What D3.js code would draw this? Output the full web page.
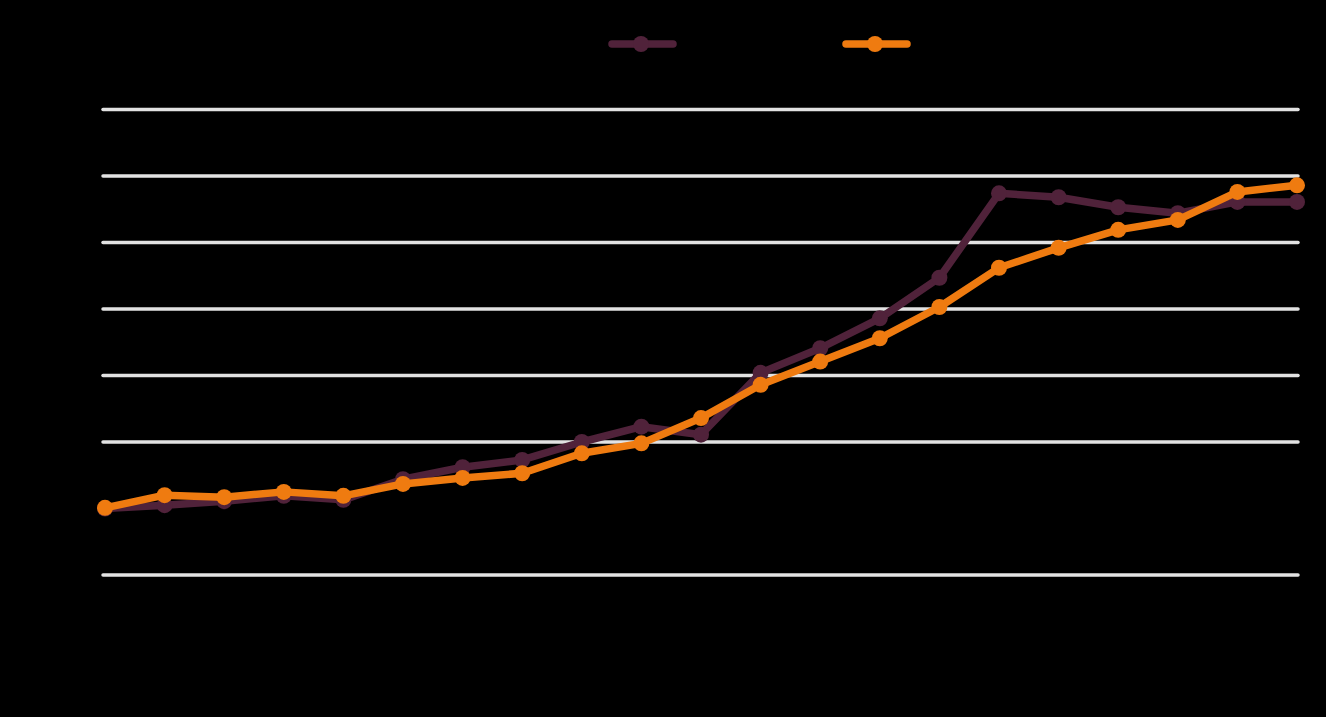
<!DOCTYPE html>
<html>
<head>
<meta charset="utf-8">
<script src="https://cdn.jsdelivr.net/npm/d3@7"></script>
<style>
  html, body { margin: 0; padding: 0; background: #000; }
  svg { display: block; }
</style>
</head>
<body>
<svg id="chart" width="1326" height="717"></svg>
<script>
const categories = ["1","2","3","4","5","6","7","8","9","10","11","12","13","14","15","16","17","18","19","20","21"];
const seriesNames = ["Series1", "Series2"];
const seriesA = [0, 0.5, 1.1, 1.9, 1.3, 4.4, 6.2, 7.3, 10.0, 12.3, 11.1, 20.4, 24.1, 28.6, 34.7, 47.4, 46.8, 45.3, 44.4, 46.1, 46.1];
const seriesB = [0.1, 2.0, 1.7, 2.5, 1.9, 3.7, 4.6, 5.3, 8.3, 9.8, 13.6, 18.6, 22.1, 25.6, 30.3, 36.2, 39.2, 41.9, 43.4, 47.6, 48.6];
const yTicks = [-10, 0, 10, 20, 30, 40, 50, 60];
const colors = ["#50223a", "#ef7b10"];

const svg = d3.select("#chart");
const mLeft = 105, mRight = 1297, mTop = 109.5, mBottom = 575;

const x = d3.scalePoint().domain(categories).range([mLeft, mRight]);
const y = d3.scaleLinear().domain([-10, 60]).range([mBottom, mTop]);

// gridlines
svg.append("g").selectAll("line")
  .data(yTicks.filter(d => d !== 0))
  .join("line")
  .attr("x1", mLeft - 2).attr("x2", mRight + 1)
  .attr("y1", d => y(d)).attr("y2", d => y(d))
  .attr("stroke", "#e2e2e2").attr("stroke-width", 3.5)
  .attr("stroke-linecap", "round");

// y axis labels (black)
const yAxis = d3.axisLeft(y).tickValues(yTicks).tickSize(0).tickPadding(10);
const gy = svg.append("g").attr("transform", `translate(${mLeft - 4},0)`).call(yAxis);
gy.select(".domain").remove();
gy.selectAll("text").attr("fill", "#000").attr("font-family", "Liberation Sans, Arial, sans-serif").attr("font-size", 16);

// x axis at zero (black)
const xAxis = d3.axisBottom(x).tickSize(0).tickPadding(80);
const gx = svg.append("g").attr("transform", `translate(0,${y(0)})`).call(xAxis);
gx.select(".domain").attr("stroke", "#000").attr("stroke-width", 2);
gx.selectAll("text").attr("fill", "#000").attr("font-family", "Liberation Sans, Arial, sans-serif").attr("font-size", 16);

const line = d3.line().x((d, i) => x(categories[i])).y(d => y(d));
const allSeries = [seriesA, seriesB];

allSeries.forEach((s, k) => {
  const g = svg.append("g");
  g.append("path").datum(s)
    .attr("d", line)
    .attr("fill", "none")
    .attr("stroke", colors[k])
    .attr("stroke-width", 7.5)
    .attr("stroke-linejoin", "round");
  g.selectAll("circle").data(s).join("circle")
    .attr("cx", (d, i) => x(categories[i]))
    .attr("cy", d => y(d))
    .attr("r", 8)
    .attr("fill", colors[k]);
});

// legend
const legendX = [612, 846];
seriesNames.forEach((name, k) => {
  const g = svg.append("g").attr("transform", `translate(${legendX[k]},44)`);
  g.append("line").attr("x1", 0).attr("x2", 61).attr("y1", 0).attr("y2", 0)
    .attr("stroke", colors[k]).attr("stroke-width", 7.5).attr("stroke-linecap", "round");
  g.append("circle").attr("cx", 29).attr("cy", 0).attr("r", 8).attr("fill", colors[k]);
  g.append("text").attr("x", 70).attr("y", 6).text(name)
    .attr("fill", "#000").attr("font-family", "Liberation Sans, Arial, sans-serif").attr("font-size", 16);
});
</script>
</body>
</html>
